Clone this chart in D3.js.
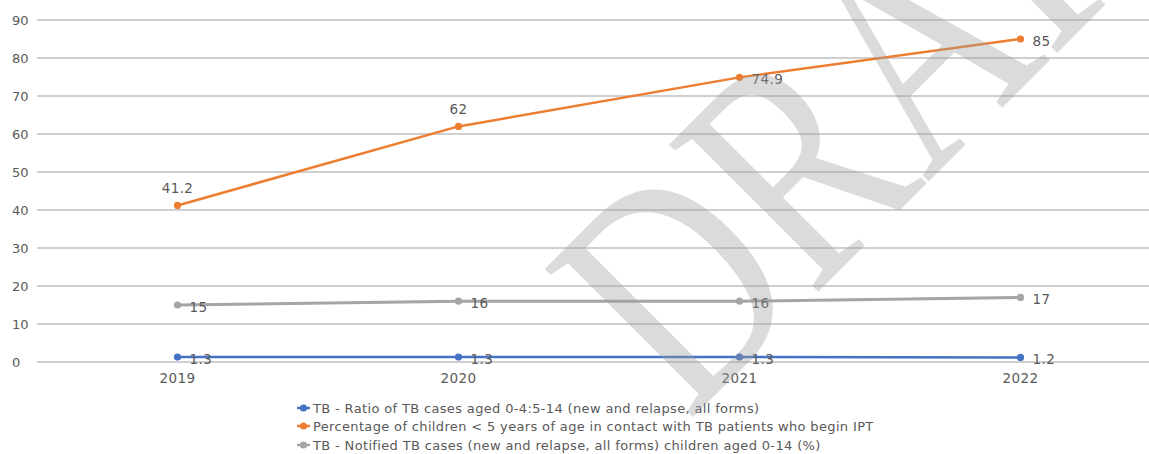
<!DOCTYPE html>
<html>
<head>
<meta charset="utf-8">
<script src="https://cdn.jsdelivr.net/npm/d3@7"></script>
<style>
  html, body { margin: 0; padding: 0; background: #fff; }
  svg { display: block; }
</style>
</head>
<body>
<svg id="chart" width="1149" height="454"></svg>
<script>
// Chart data
const years = ["2019", "2020", "2021", "2022"];
const ratioValues = [1.3, 1.3, 1.3, 1.2];
const iptValues = [41.2, 62, 74.9, 85];
const notifiedValues = [15, 16, 16, 17];
const yTicks = [0, 10, 20, 30, 40, 50, 60, 70, 80, 90];
const seriesNames = [
  "TB - Ratio of TB cases aged 0-4:5-14 (new and relapse, all forms)",
  "Percentage of children < 5 years of age in contact with TB patients who begin IPT",
  "TB - Notified TB cases (new and relapse, all forms) children aged 0-14 (%)"
];
const seriesColors = ["#4472C4", "#ED7D31", "#A5A5A5"];
// label placement per point: "above" or "right"
const iptLabelPos = ["above", "above", "right", "right"];

const series = [
  { name: seriesNames[0], values: ratioValues, color: seriesColors[0], width: 2.5, pos: years.map(() => "right") },
  { name: seriesNames[1], values: iptValues, color: seriesColors[1], width: 2.5, pos: iptLabelPos },
  { name: seriesNames[2], values: notifiedValues, color: seriesColors[2], width: 3, pos: years.map(() => "right") }
];

const FONT = "\"DejaVu Sans\", \"Noto Sans\", sans-serif";
const TEXT_COLOR = "#595959";

const svg = d3.select("#chart");
const W = 1149;

const x = d3.scaleBand().domain(years).range([37, 1161]);
const y = d3.scaleLinear().domain([0, 90]).range([362, 20]);
const cx = d => x(d) + x.bandwidth() / 2;

// horizontal gridlines
svg.append("g").selectAll("line").data(yTicks).join("line")
  .attr("x1", 37).attr("x2", W)
  .attr("y1", d => y(d)).attr("y2", d => y(d))
  .attr("stroke", "#cfcfcf").attr("stroke-width", 1.8);

// y axis labels (left-aligned column)
const yG = svg.append("g").attr("transform", "translate(12,0)")
  .call(d3.axisLeft(y).tickValues(yTicks).tickSize(0).tickPadding(0));
yG.select(".domain").remove();
yG.selectAll("text").attr("font-size", 13).attr("fill", TEXT_COLOR)
  .attr("font-family", FONT).attr("dy", "0.36em")
  .attr("text-anchor", "start").attr("x", 0);

// x axis labels
const xG = svg.append("g").attr("transform", "translate(0,373)")
  .call(d3.axisBottom(x).tickSize(0).tickPadding(0));
xG.select(".domain").remove();
xG.selectAll("text").attr("font-size", 13.5).attr("fill", TEXT_COLOR)
  .attr("font-family", FONT).attr("letter-spacing", 0.4);

// series lines, markers and value labels
const line = d3.line().x((d, i) => cx(years[i])).y(d => y(d));
series.forEach(s => {
  const g = svg.append("g");
  g.append("path").datum(s.values)
    .attr("d", line).attr("fill", "none")
    .attr("stroke", s.color).attr("stroke-width", s.width)
    .attr("stroke-linejoin", "round");
  g.selectAll("circle").data(s.values).join("circle")
    .attr("cx", (d, i) => cx(years[i])).attr("cy", d => y(d))
    .attr("r", 3.6).attr("fill", s.color);
  g.selectAll("text").data(s.values).join("text")
    .attr("x", (d, i) => s.pos[i] === "above" ? cx(years[i]) : cx(years[i]) + 12)
    .attr("y", (d, i) => s.pos[i] === "above" ? y(d) - 12 : y(d) + 7)
    .attr("text-anchor", (d, i) => s.pos[i] === "above" ? "middle" : "start")
    .attr("font-size", 13.5).attr("letter-spacing", 0.4)
    .attr("font-family", FONT).attr("fill", TEXT_COLOR)
    .text(d => d);
});

// legend
const legendY = [408, 426, 445];
const legend = svg.append("g");
series.forEach((s, i) => {
  const row = legend.append("g").attr("transform", `translate(0,${legendY[i]})`);
  row.append("line").attr("x1", 297).attr("x2", 310).attr("y1", 0).attr("y2", 0)
    .attr("stroke", s.color).attr("stroke-width", 2.5);
  row.append("circle").attr("cx", 303.5).attr("cy", 0).attr("r", 3.6).attr("fill", s.color);
  row.append("text").attr("x", 313).attr("y", 4.5)
    .attr("font-size", 13).attr("letter-spacing", 0.35)
    .attr("font-family", FONT).attr("fill", TEXT_COLOR)
    .text(s.name);
});

// DRAFT watermark, condensed and slanted across the plot
svg.append("text")
  .attr("transform", "translate(688,422) rotate(-45) scale(0.76,1)")
  .attr("font-family", "\"Liberation Serif\", \"DejaVu Serif\", serif")
  .attr("font-size", 320)
  .attr("fill", "#9a9a9a")
  .attr("fill-opacity", 0.36)
  .text("DRAFT");
</script>
</body>
</html>
